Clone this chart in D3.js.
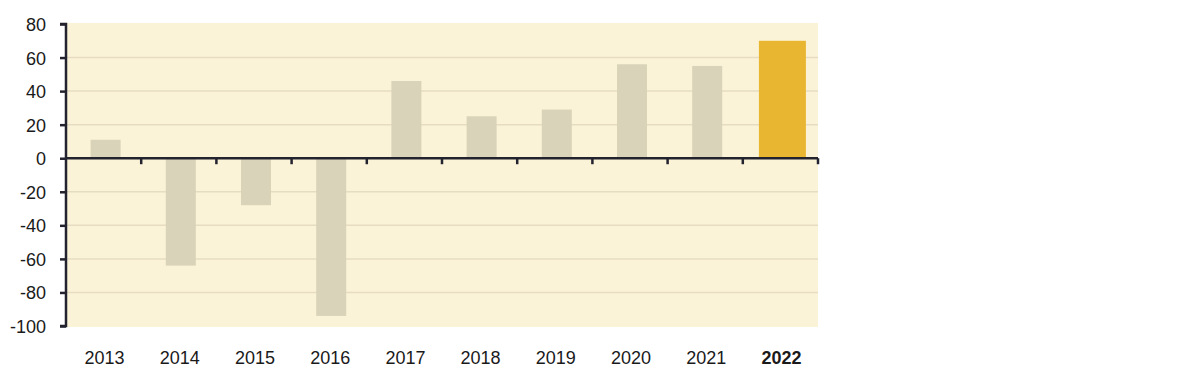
<!DOCTYPE html>
<meta charset="utf-8">
<style>
body { margin: 0; background: #fff; }
.axis text { font-family: "Liberation Sans", Arial, sans-serif; font-size: 18px; fill: #1a1a1a; }
.axis path, .axis line { stroke: #23232f; }
</style>
<svg width="1181" height="373"></svg>
<script src="https://d3js.org/d3.v7.min.js"></script>
<script>
var years = ["2013", "2014", "2015", "2016", "2017", "2018", "2019", "2020", "2021", "2022"];
var values = [11, -64, -28, -94, 46, 25, 29, 56, 55, 70];
var yTicks = [80, 60, 40, 20, 0, -20, -40, -60, -80, -100];
var highlight = "2022";

var svg = d3.select("svg"),
    margin = {top: 24, left: 66, right: 363, bottom: 47},
    width = +svg.attr("width") - margin.left - margin.right,
    height = +svg.attr("height") - margin.top - margin.bottom;

var x = d3.scaleBand().domain(years).range([0, width]),
    y = d3.scaleLinear().domain([-100, 80]).range([height, 0]);

var g = svg.append("g")
    .attr("transform", "translate(" + margin.left + "," + margin.top + ")");

g.append("rect")
    .attr("x", 0).attr("y", -1)
    .attr("width", width).attr("height", height + 2)
    .attr("fill", "#fbf3d7");

g.selectAll(".grid")
  .data(yTicks.filter(function(d) { return d !== 0 && d !== -100 && d !== 80; }))
  .enter().append("line")
    .attr("x1", 0).attr("x2", width)
    .attr("y1", function(d) { return y(d); })
    .attr("y2", function(d) { return y(d); })
    .attr("stroke", "#e6dcc2")
    .attr("stroke-width", 1.5);

g.selectAll(".bar")
  .data(years)
  .enter().append("rect")
    .attr("class", "bar")
    .attr("x", function(d) {
      var w = d === highlight ? 47 : 30;
      return x(d) + x.bandwidth() / 2 - w / 2 + 2;
    })
    .attr("width", function(d) { return d === highlight ? 47 : 30; })
    .attr("y", function(d, i) { return y(Math.max(0, values[i])); })
    .attr("height", function(d, i) { return Math.abs(y(values[i]) - y(0)); })
    .attr("fill", function(d) { return d === highlight ? "#e9b631" : "#d9d3b9"; });

// y axis, plain hyphen for negatives
var ya = g.append("g")
    .attr("class", "axis")
    .call(d3.axisLeft(y).tickValues(yTicks).tickSize(6).tickPadding(14)
      .tickFormat(function(d) { return String(d); }));
ya.select(".domain").attr("stroke-width", 2.5).attr("d", "M-6," + y(-100) + "H0V" + y(80) + "H-6");
ya.selectAll("line").attr("stroke-width", 2.5);
ya.selectAll("text").attr("dy", "0.36em");

// zero line with ticks
var xa = g.append("g")
    .attr("class", "axis")
    .attr("transform", "translate(0," + y(0) + ")")
    .call(d3.axisBottom(x).tickSize(0).tickFormat(""));
xa.select(".domain").attr("stroke-width", 2.5).attr("d", "M0,0H" + width);
xa.selectAll(".tick").remove();

g.selectAll(".xtick")
  .data(years.slice(1).concat(["end"]))
  .enter().append("line")
    .attr("x1", function(d, i) { return x.step() * (i + 1); })
    .attr("x2", function(d, i) { return x.step() * (i + 1); })
    .attr("y1", y(0)).attr("y2", y(0) + 6)
    .attr("stroke", "#23232f")
    .attr("stroke-width", 2.5);

// year labels
g.selectAll(".year")
  .data(years)
  .enter().append("text")
    .attr("class", "year")
    .attr("x", function(d) { return x(d) + x.bandwidth() / 2 + 1; })
    .attr("y", height + 38)
    .attr("text-anchor", "middle")
    .style("font-family", "'Liberation Sans', Arial, sans-serif")
    .style("font-size", "18px")
    .style("font-weight", function(d) { return d === highlight ? "bold" : "normal"; })
    .attr("fill", "#1a1a1a")
    .text(function(d) { return d; });
</script>
